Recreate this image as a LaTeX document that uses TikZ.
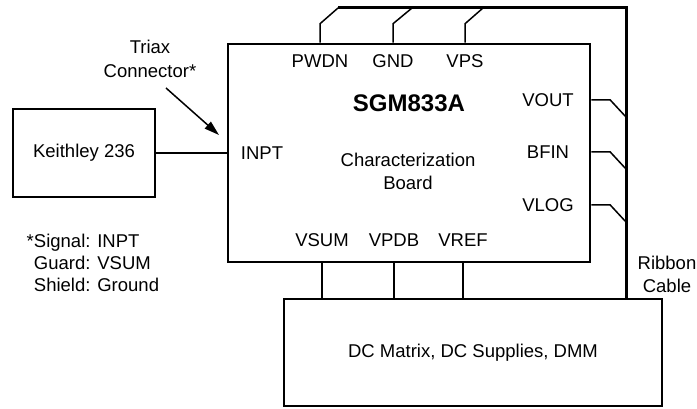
\documentclass[tikz,border=0pt]{standalone}
\usepackage{fontspec}
\setmainfont{Liberation Sans}
\usetikzlibrary{arrows.meta}

\begin{document}
\begin{tikzpicture}[x=1pt, y=-1pt, line width=1.5pt,
    box/.style={draw, rectangle, inner sep=0pt, font=\fontsize{18.5}{22}\selectfont},
    lbl/.style={inner sep=0pt, anchor=base, font=\fontsize{18.5}{23}\selectfont},
    cable/.style={line width=3pt}]
  \useasboundingbox (0,0) rectangle (697,409);
  % boxes
  \node[box, minimum width=142pt, minimum height=88pt] (keithley) at (84,153) {Keithley 236};
  \node[box, line width=2.5pt, minimum width=362pt, minimum height=218pt] (board) at (409,153) {};
  \node[box, minimum width=378pt, minimum height=107pt] (dcm) at (473,352.5) {DC Matrix, DC Supplies, DMM};
  % board texts
  \node[lbl, font=\fontsize{24}{28}\selectfont\bfseries] (title) at (409,112) {SGM833A};
  \node[lbl, align=center] (sub) at (408,190) {Characterization\\Board};
  \node[lbl] (inpt) at (262,160) {INPT};
  \draw (keithley.east) -- (board.west |- keithley.east);
  % triax connector
  \node[lbl, align=center, font=\fontsize{18.5}{24}\selectfont] (triax) at (150,78) {Triax\\Connector*};
  \coordinate (tstart) at (166,88);
  \coordinate (ttip) at (219,135);
  \draw[-{Triangle[length=15pt,width=9pt]}] (tstart) -- (ttip);
  % ribbon cable
  \coordinate (rtop) at (626,8);
  \coordinate (rbot) at (dcm.north -| rtop);
  \coordinate (rstart) at (338,8);
  \draw[cable] (rstart) -- (rtop) -- (rbot);
  \node[lbl, align=center] (ribbon) at (667,292) {Ribbon\\Cable};
  % top pins
  \foreach \lab/\x/\xe in {PWDN/320/338, GND/393/412, VPS/465/483} {
    \node[lbl] (pin\lab) at (\x,68) {\lab};
    \draw (board.north -| pin\lab) -- ++(0,-19) -- (\xe,8);
  }
  % right pins
  \foreach \lab/\y in {VOUT/100, BFIN/152, VLOG/205} {
    \node[lbl] (pin\lab) at (548,\y+7) {\lab};
    \coordinate (end\lab) at (626,\y+17);
    \draw (board.east |- 0,\y) -- ++(19,0) -- (end\lab);
  }
  % bottom pins
  \foreach \lab/\x in {VSUM/322, VPDB/394, VREF/463} {
    \node[lbl] (pin\lab) at (\x,247) {\lab};
    \draw (board.south -| pin\lab) -- (dcm.north -| pin\lab);
  }
  % footnote
  \node[lbl, anchor=base west, align=left, font=\fontsize{18.5}{22}\selectfont] (note) at (26,291)
    {*Signal: INPT\\\phantom{*}Guard: VSUM\\\phantom{*}Shield: Ground};
\end{tikzpicture}
\end{document}
